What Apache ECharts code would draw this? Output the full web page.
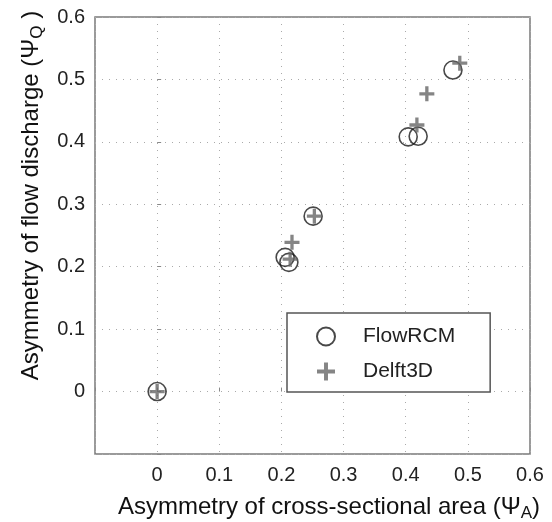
<!DOCTYPE html>
<html>
<head>
<meta charset="utf-8">
<script src="https://cdn.jsdelivr.net/npm/echarts@6/dist/echarts.min.js"></script>
<style>
html,body{margin:0;padding:0;background:#fff;}
#chart{width:552px;height:522px;}
</style>
</head>
<body>
<div id="chart"></div>
<script>
// Data
const seriesNames = ['FlowRCM', 'Delft3D'];
const flowRCM_A = [0, 0.206, 0.212, 0.251, 0.404, 0.420, 0.476];
const flowRCM_Q = [0, 0.215, 0.207, 0.281, 0.408, 0.409, 0.515];
const delft3D_A = [0, 0.214, 0.217, 0.253, 0.418, 0.434, 0.487];
const delft3D_Q = [0, 0.212, 0.239, 0.281, 0.427, 0.477, 0.526];
const axisMin = -0.1, axisMax = 0.6, axisStep = 0.1;

const pair = (xs, ys) => xs.map((x, i) => [x, ys[i]]);
const FONT = '"Liberation Sans", Arial, sans-serif';
const plusPath = 'path://M3.9,0H6.1V3.9H10V6.1H6.1V10H3.9V6.1H0V3.9H3.9Z';
const fmt = v => (Math.abs(v - axisMin) < 1e-9) ? '' : String(Math.round(v * 10) / 10);

const chart = echarts.init(document.getElementById('chart'), null, {renderer: 'canvas'});
chart.setOption({
  animation: false,
  backgroundColor: '#fff',
  grid: {left: 95, right: 22, top: 17, bottom: 68, show: true, borderColor: '#7a7a7a', borderWidth: 1.5,
         containLabel: false, outerBoundsMode: 'none'},
  legend: {
    orient: 'vertical',
    left: 287, top: 313,
    data: seriesNames,
    itemWidth: 18, itemHeight: 18, itemGap: 14,
    padding: [13, 35, 10, 29],
    borderColor: '#555', borderWidth: 1.5, backgroundColor: '#fff',
    textStyle: {fontFamily: FONT, fontSize: 21, lineHeight: 21, color: '#222', padding: [0, 0, 0, 23]}
  },
  xAxis: {
    type: 'value', min: axisMin, max: axisMax, interval: axisStep,
    name: 'Asymmetry of cross-sectional area (Ψ{sub|A})',
    nameLocation: 'middle', nameGap: 38,
    nameTextStyle: {fontFamily: FONT, fontSize: 24, color: '#111', padding: [0, 0, 0, 33],
      rich: {sub: {fontFamily: FONT, fontSize: 17, color: '#111', padding: [13, 0, 0, 0]}}},
    axisLine: {show: false},
    axisTick: {show: true, inside: true, length: 4, lineStyle: {color: '#888'}},
    axisLabel: {fontFamily: FONT, fontSize: 20, color: '#222', margin: 11, formatter: fmt},
    splitLine: {show: true, lineStyle: {color: '#aaa', type: [1, 6], width: 1}}
  },
  yAxis: {
    type: 'value', min: axisMin, max: axisMax, interval: axisStep,
    name: 'Asymmetry of flow discharge (Ψ{sub|Q} )',
    nameLocation: 'middle', nameGap: 48,
    nameTextStyle: {fontFamily: FONT, fontSize: 24, color: '#111', padding: [0, 0, 0, 80],
      rich: {sub: {fontFamily: FONT, fontSize: 17, color: '#111', padding: [13, 0, 0, 0]}}},
    axisLine: {show: false},
    axisTick: {show: true, inside: true, length: 4, lineStyle: {color: '#888'}},
    axisLabel: {fontFamily: FONT, fontSize: 20, color: '#222', margin: 10, formatter: fmt},
    splitLine: {show: true, lineStyle: {color: '#aaa', type: [1, 6], width: 1}}
  },
  series: [
    {
      name: seriesNames[0], type: 'scatter', symbol: 'circle', symbolSize: 18,
      data: pair(flowRCM_A, flowRCM_Q),
      itemStyle: {color: 'rgba(255,255,255,0)', borderColor: '#1a1a1a', borderWidth: 1.6}
    },
    {
      name: seriesNames[1], type: 'scatter', symbol: plusPath, symbolSize: 15,
      data: pair(delft3D_A, delft3D_Q),
      itemStyle: {color: '#666'}
    }
  ]
});
</script>
</body>
</html>
